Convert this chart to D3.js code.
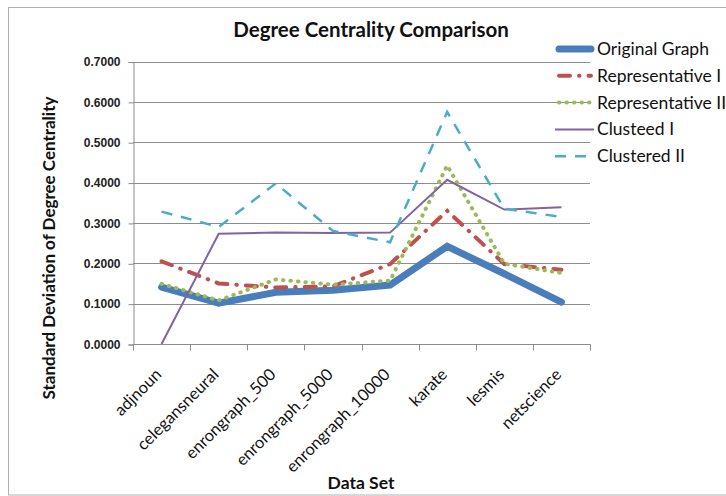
<!DOCTYPE html>
<html lang="en">
<head>
    <meta charset="UTF-8">
    <title>Degree Centrality Comparison</title>
    <script src="https://d3js.org/d3.v7.min.js"></script>
    <style>
        body { margin: 0; background: #fff; }
        svg { display: block; font-family: Lato, "Open Sans", sans-serif; }
    </style>
</head>
<body>
    <svg id="chart" width="726" height="496"></svg>

    <script>
        // chart values
        const dataSets = ["adjnoun", "celegansneural", "enrongraph_500", "enrongraph_5000",
                          "enrongraph_10000", "karate", "lesmis", "netscience"];
        const originalGraph = [0.141, 0.101, 0.128, 0.133, 0.146, 0.242, 0.174, 0.104];
        const representativeI = [0.205, 0.150, 0.140, 0.143, 0.198, 0.330, 0.198, 0.184];
        const representativeII = [0.149, 0.108, 0.160, 0.147, 0.157, 0.442, 0.199, 0.176];
        const clusteedI = [0.000, 0.273, 0.276, 0.275, 0.276, 0.407, 0.333, 0.339];
        const clusteredII = [0.328, 0.290, 0.398, 0.280, 0.252, 0.575, 0.335, 0.315];
        const yTicks = [0, 0.1, 0.2, 0.3, 0.4, 0.5, 0.6, 0.7];

        const series = [
            { name: "Original Graph", values: originalGraph, color: "#4a7ebb", width: 7, dash: null, cap: "round" },
            { name: "Representative I", values: representativeI, color: "#c0504d", width: 4, dash: "11,9,0.5,9", cap: "round" },
            { name: "Representative II", values: representativeII, color: "#9bbb59", width: 4, dash: "0.5,7", cap: "round" },
            { name: "Clusteed I", values: clusteedI, color: "#8064a2", width: 2, dash: null, cap: "butt" },
            { name: "Clustered II", values: clusteredII, color: "#4bacc6", width: 2.5, dash: "11,9", cap: "butt" }
        ];

        const svg = d3.select("#chart");
        const plotLeft = 133, plotRight = 590, plotTop = 61.5, plotBottom = 344;

        // outer chart frame
        svg.append("rect").attr("x", 8.5).attr("y", 7.5).attr("width", 740).attr("height", 487.5)
            .attr("fill", "none").attr("stroke", "#b0b0b0");

        const x = d3.scaleBand().domain(dataSets).range([plotLeft, plotRight]);
        const y = d3.scaleLinear().domain([0, 0.7]).range([plotBottom, plotTop]);

        // gridlines
        svg.append("g").selectAll("line").data(yTicks.slice(1)).enter().append("line")
            .attr("x1", plotLeft).attr("x2", plotRight)
            .attr("y1", d => Math.round(y(d)) + 0.5).attr("y2", d => Math.round(y(d)) + 0.5)
            .attr("stroke", "#8c8c8c").attr("stroke-width", 1);

        // y axis
        const yAxis = svg.append("g").attr("transform", `translate(${plotLeft + 0.5},0.5)`)
            .call(d3.axisLeft(y).tickValues(yTicks).tickFormat(d3.format(".4f")).tickSize(5).tickPadding(8));
        yAxis.selectAll("path, line").attr("stroke", "#8c8c8c");
        yAxis.selectAll("text").attr("font-size", 12).attr("font-weight", "bold")
            .attr("fill", "#222").attr("font-family", "'Liberation Sans', sans-serif");

        // x axis with ticks at category boundaries
        const xAxis = svg.append("g").attr("transform", `translate(0,${plotBottom + 0.5})`);
        xAxis.append("line").attr("x1", plotLeft).attr("x2", plotRight + 0.5).attr("stroke", "#8c8c8c");
        const bounds = dataSets.map(d => x(d)).concat([plotRight]);
        xAxis.selectAll("line.tick").data(bounds).enter().append("line").attr("class", "tick")
            .attr("x1", d => Math.round(d) + 0.5).attr("x2", d => Math.round(d) + 0.5)
            .attr("y1", 0).attr("y2", 6).attr("stroke", "#8c8c8c");
        xAxis.selectAll("text").data(dataSets).enter().append("text")
            .attr("transform", d => `translate(${x(d) + x.bandwidth() / 2 + 1},${31}) rotate(-45)`)
            .attr("text-anchor", "end").attr("font-size", 16.5).attr("fill", "#111")
            .text(d => d);

        // series lines
        const line = d3.line()
            .x((d, i) => x(dataSets[i]) + x.bandwidth() / 2)
            .y(d => y(d));
        svg.append("g").selectAll("path").data(series).enter().append("path")
            .attr("d", d => line(d.values))
            .attr("fill", "none")
            .attr("stroke", d => d.color)
            .attr("stroke-width", d => d.width)
            .attr("stroke-dasharray", d => d.dash)
            .attr("stroke-linecap", d => d.cap)
            .attr("stroke-linejoin", "miter");

        // titles
        svg.append("text").attr("x", 371).attr("y", 37).attr("text-anchor", "middle")
            .attr("font-size", 20.5).attr("font-weight", "bold").attr("fill", "#111")
            .text("Degree Centrality Comparison");
        svg.append("text").attr("transform", "translate(55,248) rotate(-90)").attr("text-anchor", "middle")
            .attr("font-size", 17).attr("font-weight", "bold").attr("fill", "#111")
            .text("Standard Deviation of Degree Centrality");
        svg.append("text").attr("x", 361).attr("y", 489).attr("text-anchor", "middle")
            .attr("font-size", 17.5).attr("font-weight", "bold").attr("fill", "#111")
            .text("Data Set");

        // legend
        const legend = svg.append("g").selectAll("g").data(series).enter().append("g")
            .attr("transform", (d, i) => `translate(0,${49 + i * 26.8})`);
        legend.append("line").attr("x1", d => d.cap === "round" ? 559 : 555).attr("x2", d => d.cap === "round" ? 591 : 594)
            .attr("stroke", d => d.color)
            .attr("stroke-width", d => d.width)
            .attr("stroke-dasharray", d => d.dash)
            .attr("stroke-linecap", d => d.cap);
        legend.append("text").attr("x", 597).attr("y", 6).attr("font-size", 17.5).attr("fill", "#111")
            .text(d => d.name);
    </script>
</body>
</html>
